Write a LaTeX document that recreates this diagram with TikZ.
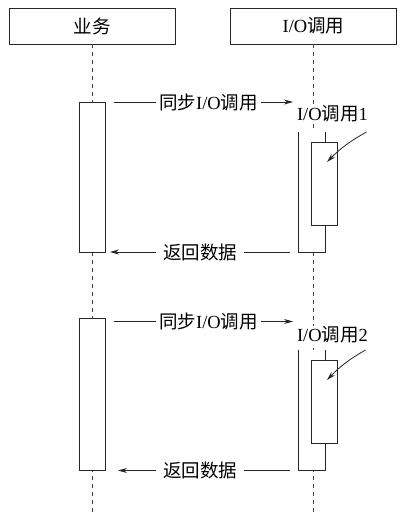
\documentclass[tikz,border=0pt]{standalone}
\usepackage{fontspec}
\setmainfont{Liberation Serif}
\newfontfamily\cjk{Noto Sans CJK SC}
\usetikzlibrary{arrows.meta}
\newcommand{\FT}{\fontsize{18.5}{22}\selectfont}

\begin{document}
\begin{tikzpicture}[x=1pt,y=-1pt]
\tikzstyle{head}=[draw=black!85,line width=0.8pt,minimum width=166pt,minimum height=36pt,font=\FT]
\tikzstyle{life}=[black!75,line width=0.8pt,dash pattern=on 4pt off 4pt]
\tikzstyle{act}=[draw=black!85,fill=white,line width=0.8pt,minimum width=26pt,inner sep=0pt]
\tikzstyle{side}=[black!85,line width=0.8pt]
\tikzstyle{msg}=[black!85,line width=0.8pt,-{Stealth[length=9pt,width=5pt]}]
\tikzstyle{texto}=[fill=white,inner xsep=3pt,inner ysep=1pt,font=\FT]

\useasboundingbox (0,0) rectangle (409,514);

% heads and life lines
\node[head] (biz) at (92,26) {{\cjk 业务}};
\node[head] (io) at (313.5,26) {I/O{\cjk 调用}};
\coordinate (bizend) at (92,514);
\coordinate (ioend) at (313.5,514);
\draw[life] (biz.south) -- (bizend);
\draw[life] (io.south) -- (ioend);

% first call
\node[act,minimum height=150pt] (b1) at (92,177) {};
\node[act,draw=none,minimum height=120pt] (o1) at (312,192) {};
\draw[side] (o1.north west) -- (o1.south west) -- (o1.south east) -- (o1.north east);
\node[act,minimum height=83pt] (c1) at (324,183.5) {};

\coordinate (s1) at (114,102);
\coordinate (t1) at (293,102);
\draw[msg] (s1) -- (t1);
\node[texto] (m1) at (208.5,102.5) {{\cjk 同步}I/O{\cjk 调用}};

\coordinate (u1) at (290,252);
\coordinate (v1) at (110,252);
\draw[msg] (u1) -- (v1);
\node[texto,inner xsep=7pt] (n1) at (200,252) {{\cjk 返回数据}};

\node[texto,inner xsep=1pt] (l1) at (332.5,114) {I/O{\cjk 调用}1};
\coordinate (p1) at (366.5,132);
\coordinate (q1) at (327,162);
\draw[msg] (p1) to[bend right=8] (q1);

% second call
\node[act,minimum height=152pt] (b2) at (92,394.5) {};
\node[act,draw=none,minimum height=120pt] (o2) at (312,410) {};
\draw[side] (o2.north west) -- (o2.south west) -- (o2.south east) -- (o2.north east);
\node[act,minimum height=83pt] (c2) at (324,401.5) {};

\coordinate (s2) at (114,321.5);
\coordinate (t2) at (293,321.5);
\draw[msg] (s2) -- (t2);
\node[texto] (m2) at (208.5,322) {{\cjk 同步}I/O{\cjk 调用}};

\coordinate (u2) at (290,470.5);
\coordinate (v2) at (118,470.5);
\draw[msg] (u2) -- (v2);
\node[texto,inner xsep=7pt] (n2) at (200,470.5) {{\cjk 返回数据}};

\node[texto,inner xsep=1pt] (l2) at (332.5,335) {I/O{\cjk 调用}2};
\coordinate (p2) at (365.5,350);
\coordinate (q2) at (327,380);
\draw[msg] (p2) to[bend right=8] (q2);
\end{tikzpicture}
\end{document}
